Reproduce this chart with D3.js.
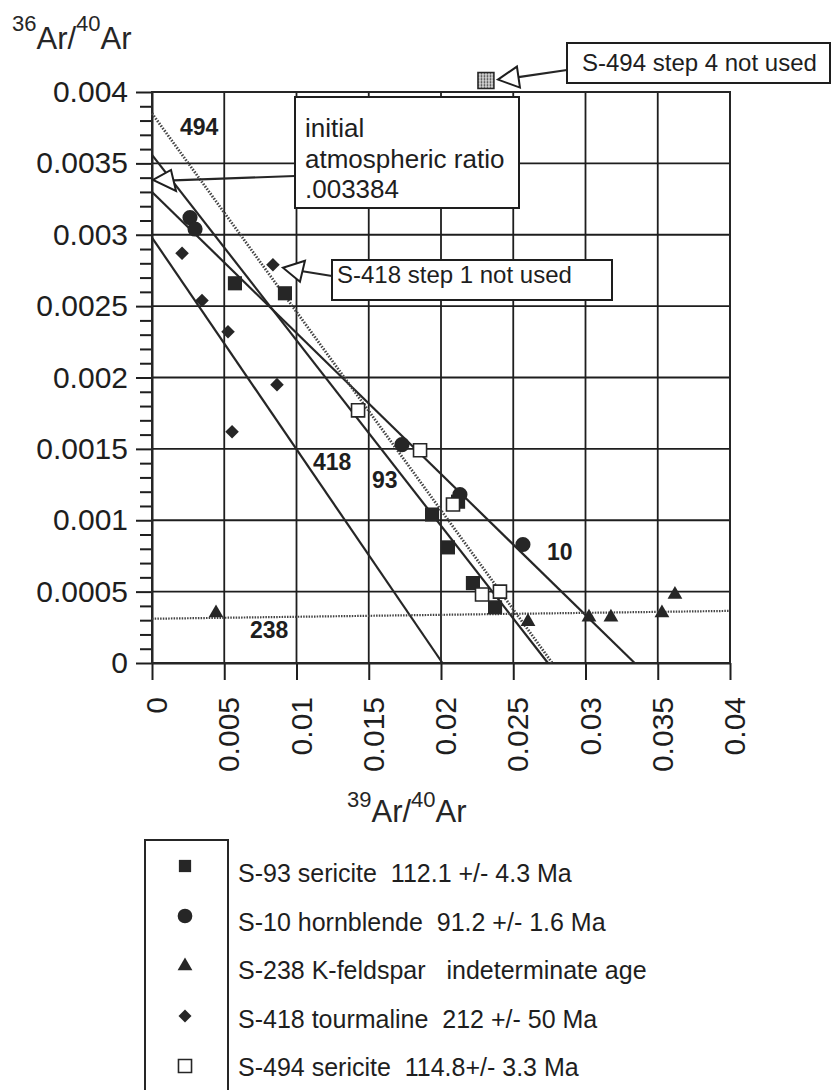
<!DOCTYPE html>
<html>
<head>
<meta charset="utf-8">
<script src="https://cdn.jsdelivr.net/npm/d3@7"></script>
<style>
  body { margin: 0; background: #fff; }
  svg { display: block; font-family: "Liberation Sans", Arial, sans-serif; }
  .axis text { font-size: 30px; fill: #1e1e1e; }
  .axis line, .axis path { stroke: #1e1e1e; stroke-width: 2px; }
  .grid line { stroke: #1e1e1e; stroke-width: 1.8px; }
  .note rect, .arrow { fill: #fff; stroke: #1e1e1e; stroke-width: 2px; }
  .note text { font-size: 24px; fill: #1e1e1e; }
  .line-label { font-size: 23px; font-weight: bold; fill: #1e1e1e; }
  .legend text { font-size: 25px; fill: #1e1e1e; white-space: pre; }
</style>
</head>
<body>
<div id="chart"></div>
<script>
// axis ticks
const xTicks = [0, 0.005, 0.01, 0.015, 0.02, 0.025, 0.03, 0.035, 0.04];
const yTicks = [0, 0.0005, 0.001, 0.0015, 0.002, 0.0025, 0.003, 0.0035, 0.004];

// samples: [39Ar/40Ar, 36Ar/40Ar]
const s93 = [[0.00574, 0.00266], [0.0092, 0.00259], [0.01938, 0.00104], [0.02048, 0.00081],
             [0.02221, 0.00056], [0.02374, 0.00039], [0.02118, 0.00113]];
const s10 = [[0.00263, 0.00312], [0.00298, 0.00304], [0.0173, 0.00153], [0.02131, 0.00118], [0.02567, 0.00083]];
const s238 = [[0.00443, 0.00035], [0.02602, 0.00029], [0.03024, 0.00032], [0.03176, 0.00032],
              [0.03529, 0.00035], [0.03619, 0.00048]];
const s418 = [[0.00208, 0.00287], [0.00346, 0.00254], [0.00526, 0.00232], [0.00865, 0.00195], [0.00554, 0.00162]];
const s494 = [[0.01426, 0.00177], [0.01855, 0.00149], [0.02083, 0.00111], [0.02284, 0.00048], [0.02408, 0.0005]];
const s418Unused = [0.00837, 0.00279];
const s494Unused = [0.02311, 0.00408];
const atmRatio = 0.003384;

// isochron fits (endpoints)
const fit93 = [[0, 0.00356], [0.0274, 0]];
const fit10 = [[0, 0.0033], [0.0334, 0]];
const fit418 = [[0, 0.00298], [0.0201, 0]];
const fit494 = [[0, 0.00385], [0.0277, 0]];
const fit238 = [[0, 0.00031], [0.04, 0.000365]];

const legendLabels = [
  'S-93 sericite  112.1 +/- 4.3 Ma',
  'S-10 hornblende  91.2 +/- 1.6 Ma',
  'S-238 K-feldspar   indeterminate age',
  'S-418 tourmaline  212 +/- 50 Ma',
  'S-494 sericite  114.8+/- 3.3 Ma'
];

const W = 831, H = 1090;
const margin = {left: 152, top: 92, right: 101, bottom: 427};
const ink = '#262626';

const svg = d3.select('#chart').append('svg')
    .attr('width', W)
    .attr('height', H);

const defs = svg.append('defs');
const stipple = defs.append('pattern')
    .attr('id', 'stipple')
    .attr('width', 3).attr('height', 3)
    .attr('patternUnits', 'userSpaceOnUse');
stipple.append('rect').attr('width', 3).attr('height', 3).attr('fill', '#d8d8d8');
stipple.append('circle').attr('cx', 1.5).attr('cy', 1.5).attr('r', 0.9).attr('fill', '#333');

const x = d3.scaleLinear().domain([0, 0.04]).range([margin.left, W - margin.right]);
const y = d3.scaleLinear().domain([0, 0.004]).range([H - margin.bottom, margin.top]);
const fmt = d => d === 0 ? '0' : d3.format('.4~f')(d);

// grid
const grid = svg.append('g').attr('class', 'grid');
grid.selectAll('.gx').data(xTicks).join('line')
    .attr('x1', d => x(d)).attr('x2', d => x(d))
    .attr('y1', y(0)).attr('y2', y(0.004));
grid.selectAll('.gy').data(yTicks).join('line')
    .attr('class', 'gy')
    .attr('x1', x(0)).attr('x2', x(0.04))
    .attr('y1', d => y(d)).attr('y2', d => y(d));

// axes
svg.append('g')
    .attr('class', 'axis')
    .attr('transform', `translate(${x(0)},0)`)
    .call(d3.axisLeft(y).tickValues(yTicks).tickSize(16).tickSizeOuter(0).tickPadding(8).tickFormat(fmt));

// minor ticks every 0.0001
const minor = d3.range(1, 40).map(i => i * 0.0001).filter(v => Math.round(v * 10000) % 5 !== 0);
svg.append('g')
    .attr('class', 'axis')
    .attr('transform', `translate(${x(0)},0)`)
    .call(d3.axisLeft(y).tickValues(minor).tickSize(12).tickSizeOuter(0).tickFormat(''))
    .call(g => g.select('.domain').remove());

svg.append('g')
    .attr('class', 'axis')
    .attr('transform', `translate(0,${y(0)})`)
    .call(d3.axisBottom(x).tickValues(xTicks).tickSize(17).tickSizeOuter(0).tickFormat(fmt))
    .call(g => g.selectAll('text')
        .attr('transform', 'rotate(-90)')
        .attr('text-anchor', 'end')
        .attr('x', -34)
        .attr('y', 4)
        .attr('dy', '0.35em'));

svg.append('rect')
    .attr('x', x(0)).attr('y', y(0.004))
    .attr('width', x(0.04) - x(0)).attr('height', y(0) - y(0.004))
    .attr('fill', 'none').attr('stroke', ink).attr('stroke-width', 2);

// axis titles (isotope ratios with superscripts)
function isoTitle(px, py, a, b, rise) {
  const t = svg.append('text').attr('x', px).attr('y', py).attr('fill', ink).style('font-size', '31px');
  t.append('tspan').attr('dy', -rise).style('font-size', '22px').text(a);
  t.append('tspan').attr('dy', rise).text('Ar/');
  t.append('tspan').attr('dy', -rise).style('font-size', '22px').text(b);
  t.append('tspan').attr('dy', rise).text('Ar');
}
isoTitle(12, 49, '36', '40', 18);
isoTitle(347, 822, '39', '40', 15);

// fit lines
const line = d3.line().x(d => x(d[0])).y(d => y(d[1]));
const plot = svg.append('g');
[fit93, fit10, fit418].forEach(f => plot.append('path')
    .attr('d', line(f)).attr('fill', 'none').attr('stroke', ink).attr('stroke-width', 2.2));
plot.append('path').attr('d', line(fit494))
    .attr('fill', 'none').attr('stroke', '#444').attr('stroke-width', 2.8).attr('stroke-dasharray', '1.5,1.5');
plot.append('path').attr('d', line(fit238))
    .attr('fill', 'none').attr('stroke', '#444').attr('stroke-width', 2.2).attr('stroke-dasharray', '1.5,1.2');

// line labels
const lineLabels = [['494', 180, 135], ['418', 313, 470], ['93', 372, 488], ['238', 250, 638], ['10', 547, 560]];
svg.selectAll('.line-label').data(lineLabels).join('text')
    .attr('class', 'line-label')
    .attr('x', d => d[1]).attr('y', d => d[2])
    .text(d => d[0]);

// markers
const shapes = {
  square: [d3.symbolSquare, 200],
  circle: [d3.symbolCircle, 180],
  triangle: [d3.symbolTriangle, 95],
  diamond: [d3.symbolSquare, 92],
  open: [d3.symbolSquare, 170]
};
const series = [
  {data: s93, shape: 'square', fill: ink, stroke: 'none', rot: 0},
  {data: s10, shape: 'circle', fill: ink, stroke: 'none', rot: 0},
  {data: s238, shape: 'triangle', fill: ink, stroke: 'none', rot: 0},
  {data: s418, shape: 'diamond', fill: ink, stroke: 'none', rot: 45},
  {data: s494, shape: 'open', fill: '#fff', stroke: ink, rot: 0}
];
series.forEach(s => {
  plot.selectAll(null).data(s.data).join('path')
      .attr('d', d3.symbol(...shapes[s.shape])())
      .attr('transform', d => `translate(${x(d[0])},${y(d[1])}) rotate(${s.rot})`)
      .attr('fill', s.fill).attr('stroke', s.stroke).attr('stroke-width', 1.6);
});
plot.append('path')
    .attr('d', d3.symbol(...shapes.diamond)())
    .attr('transform', `translate(${x(s418Unused[0])},${y(s418Unused[1])}) rotate(45)`)
    .attr('fill', ink);
plot.append('path')
    .attr('d', d3.symbol(d3.symbolSquare, 256)())
    .attr('transform', `translate(${x(s494Unused[0])},${y(s494Unused[1])})`)
    .attr('fill', 'url(#stipple)').attr('stroke', ink).attr('stroke-width', 1.5);

// annotations: box + open arrowhead pointing at a point
function note(box, lines, lineH, tip, base1, base2, joint) {
  const g = svg.append('g').attr('class', 'note');
  const mid = [(base1[0] + base2[0]) / 2, (base1[1] + base2[1]) / 2];
  g.append('line')
      .attr('x1', mid[0]).attr('y1', mid[1]).attr('x2', joint[0]).attr('y2', joint[1])
      .attr('stroke', ink).attr('stroke-width', 2.2);
  g.append('polygon').attr('class', 'arrow')
      .attr('points', [tip, base1, base2].map(p => p.join(',')).join(' '));
  g.append('rect')
      .attr('x', box.x).attr('y', box.y).attr('width', box.w).attr('height', box.h);
  g.selectAll('.t').data(lines).join('text')
      .attr('x', box.tx).attr('y', (d, i) => box.ty + i * lineH)
      .style('font-size', box.fs + 'px')
      .text(d => d);
}

const atmTip = [x(0) + 1, y(atmRatio)];
note({x: 295, y: 97, w: 224, h: 111, tx: 305, ty: 137, fs: 26},
     ['initial', 'atmospheric ratio', '.003384'], 30.5,
     atmTip, [atmTip[0] + 18, atmTip[1] - 10], [atmTip[0] + 23, atmTip[1] + 11], [295, 176]);

const t418 = [x(s418Unused[0]) + 10, y(s418Unused[1]) + 3];
note({x: 332, y: 260, w: 280, h: 40, tx: 337, ty: 283, fs: 24},
     ['S-418 step 1 not used'], 0,
     t418, [t418[0] + 22, t418[1] - 7], [t418[0] + 17, t418[1] + 14], [332, 276]);

const t494 = [x(s494Unused[0]) + 12, y(s494Unused[1]) - 1];
note({x: 567, y: 43, w: 263, h: 40, tx: 582, ty: 71, fs: 24},
     ['S-494 step 4 not used'], 0,
     t494, [t494[0] + 19, t494[1] - 13], [t494[0] + 22, t494[1] + 8], [567, 70]);

// legend
const legend = svg.append('g').attr('class', 'legend');
legend.append('path')
    .attr('d', `M145,${H}V840H228V${H}`)
    .attr('fill', 'none').attr('stroke', ink).attr('stroke-width', 2);
const legendShapes = ['square', 'circle', 'triangle', 'diamond', 'open'];
const legendSize = {square: 150, circle: 170, triangle: 95, diamond: 85, open: 170};
legend.selectAll('.sym').data(series).join('path')
    .attr('d', (d, i) => d3.symbol(shapes[legendShapes[i]][0], legendSize[legendShapes[i]])())
    .attr('transform', (d, i) => `translate(185,${866 + i * 50}) rotate(${d.rot})`)
    .attr('fill', d => d.fill).attr('stroke', d => d.stroke).attr('stroke-width', 1.6);
legend.selectAll('.lab').data(legendLabels).join('text')
    .attr('x', 238).attr('y', (d, i) => 882 + i * 48.6)
    .text(d => d);
</script>
</body>
</html>
